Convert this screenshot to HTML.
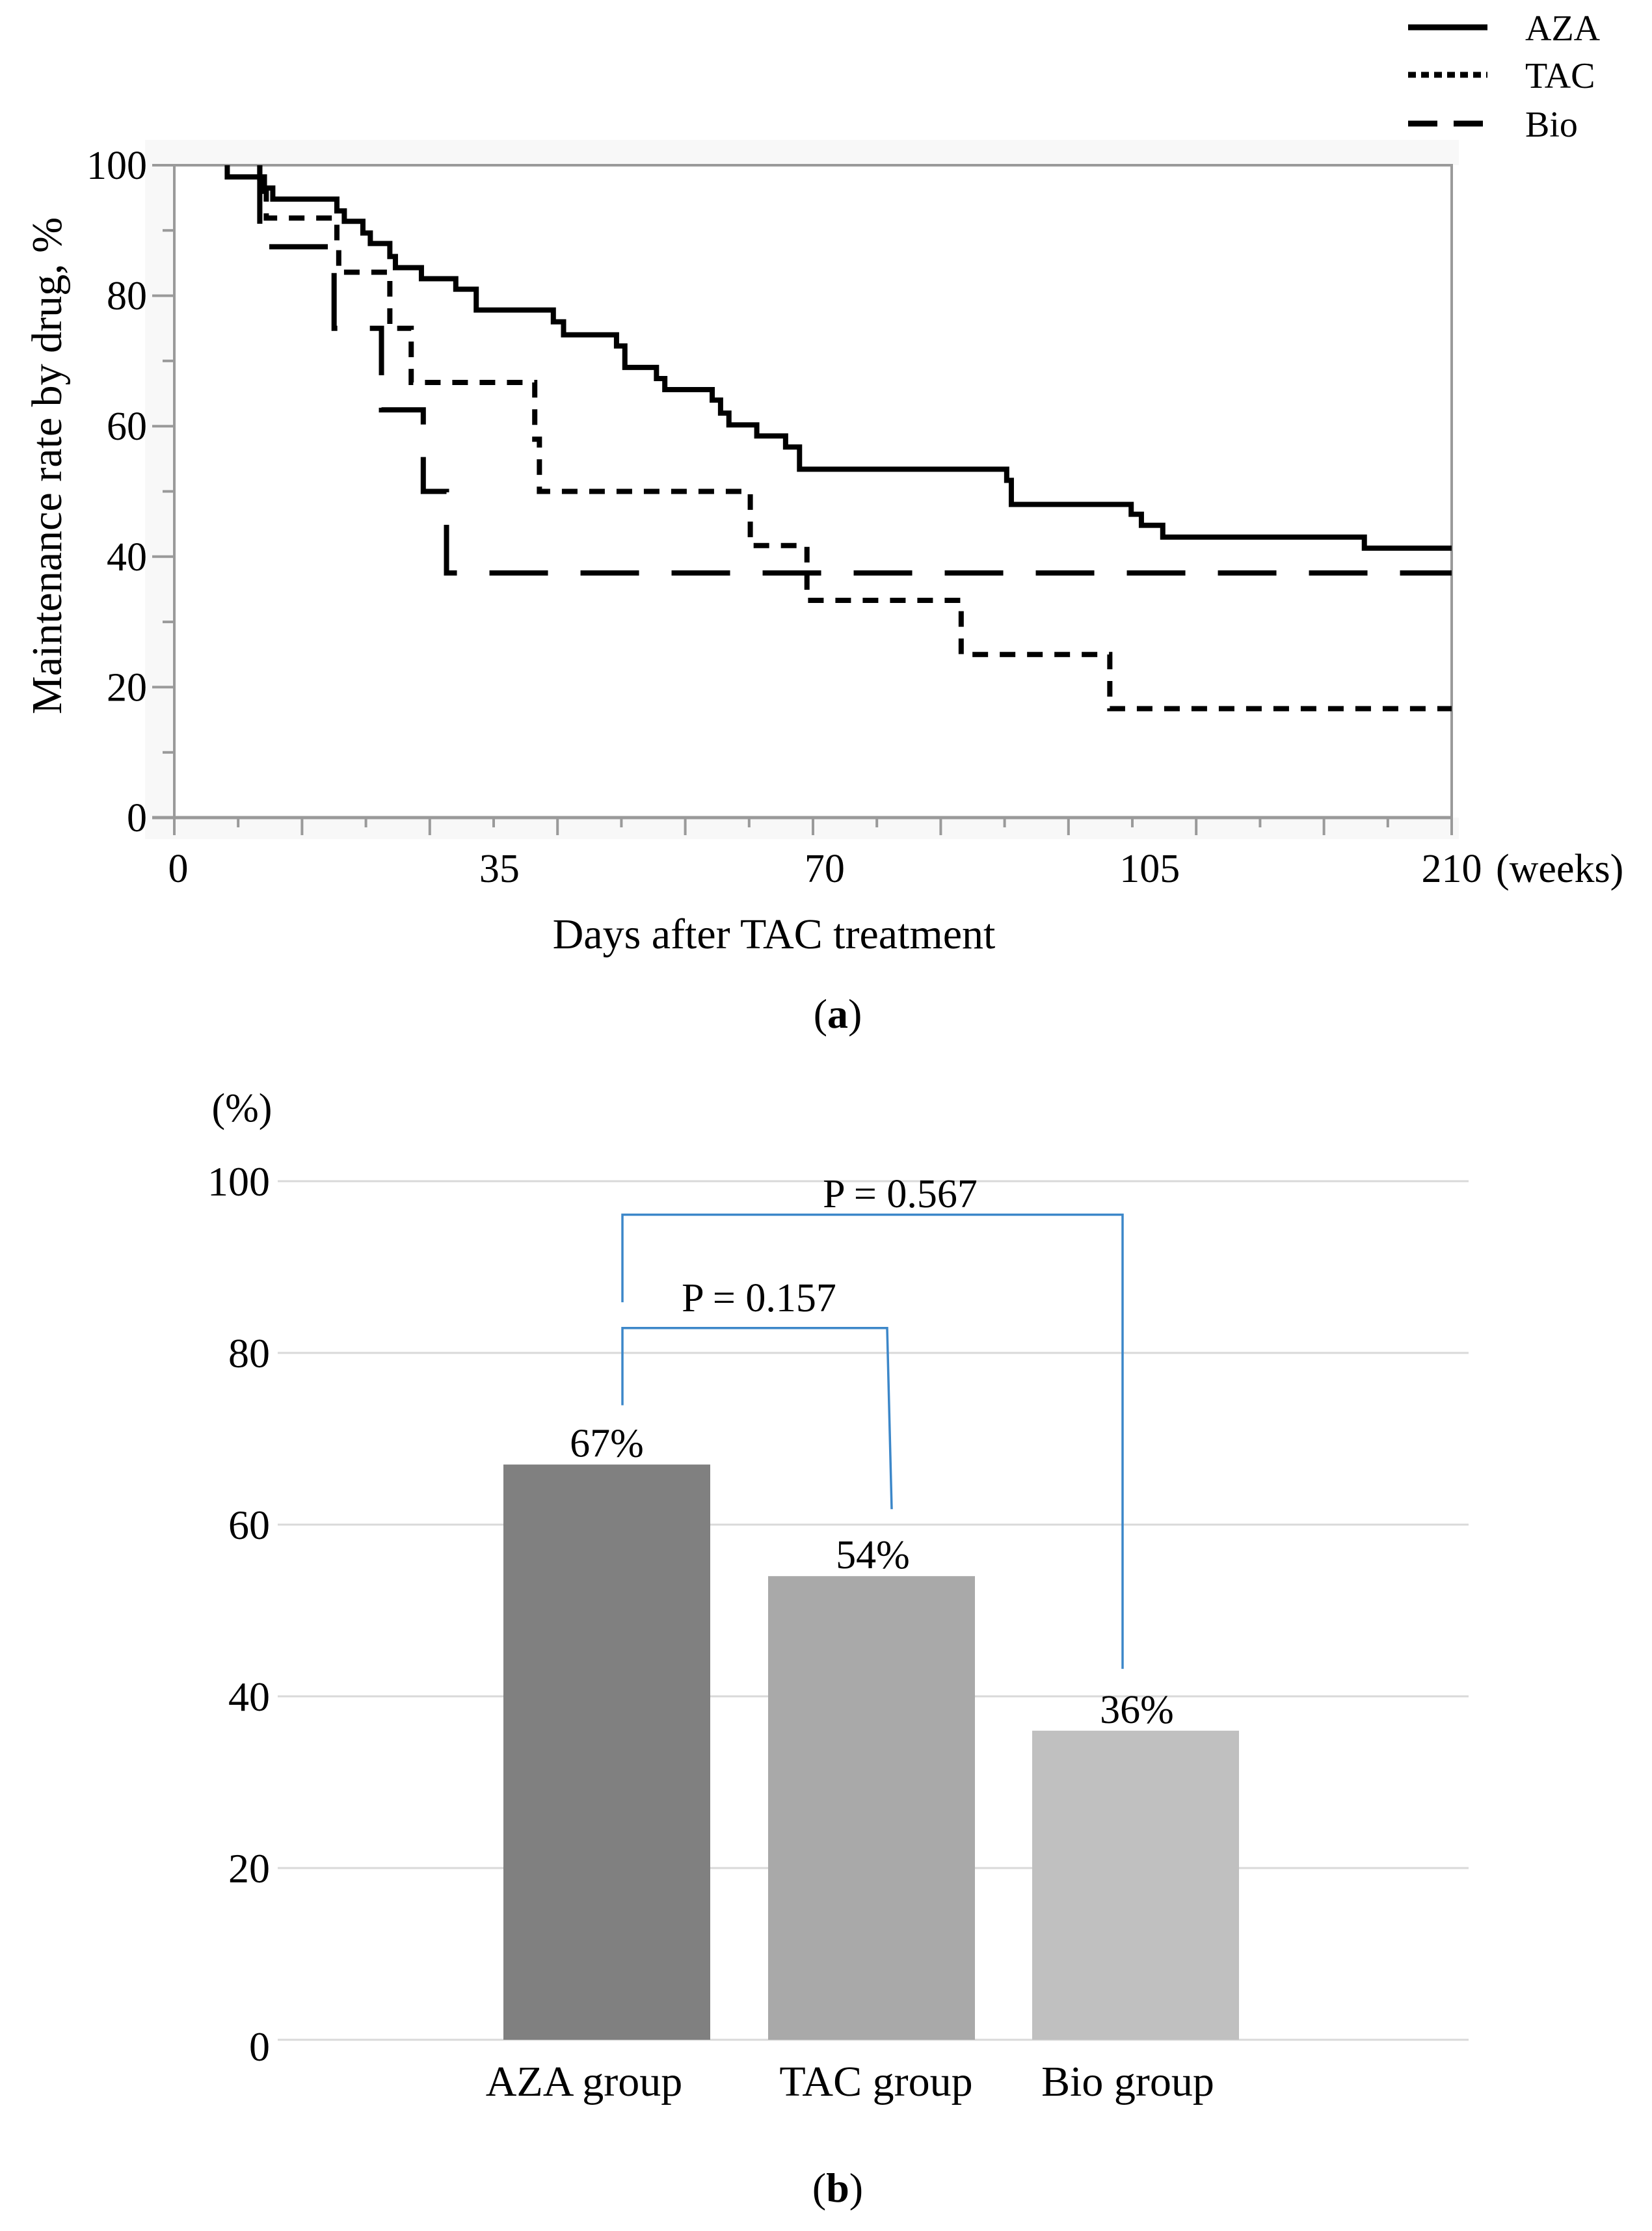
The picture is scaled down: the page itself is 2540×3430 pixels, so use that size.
<!DOCTYPE html>
<html><head><meta charset="utf-8"><style>
html,body{margin:0;padding:0;background:#fff;}
svg{display:block;font-family:"Liberation Serif",serif;}
</style></head><body>
<svg id="fig" width="2540" height="3430" viewBox="0 0 2540 3430" xmlns="http://www.w3.org/2000/svg">
<g id="kmg"></g>
<g id="barg"></g>
</svg>
<script>
// ---- KM chart data ----
const kmYTicks=[0,20,40,60,80,100];
const kmXTickValues=[0,35,70,105,137.5];
const kmXTickLabels=['0','35','70','105','210'];
const azaTimes=[5.7,9.7,10.6,17.5,18.3,20.3,21.1,23.2,23.8,26.6,30.3,32.5,40.8,41.9,47.6,48.5,51.9,52.8,57.9,58.8,59.7,62.7,65.8,67.3,89.6,90.1,103,104.1,106.4,128.1];
const azaVals=[98.2,96.5,94.8,93,91.4,89.6,88,86,84.3,82.6,81,77.8,76,74,72.3,69,67.3,65.6,64,62,60.2,58.5,56.8,53.4,51.7,48,46.5,44.8,43,41.3];
const tacTimes=[9.2,9.9,17.5,17.7,23.2,25.5,38.8,39.3,62.0,68.1,84.7,100.7];
const tacVals=[96,91.9,88,83.6,75,66.7,58,50,41.7,33.3,25,16.7];
const bioTimes=[9.2,17.2,22.3,26.8,29.3];
const bioVals=[87.5,75,62.5,50,37.5];
// ---- Bar chart data ----
const barCats=['AZA group','TAC group','Bio group'];
const barVals=[67,54,36];
const barLabels=['67%','54%','36%'];
const barYTicks=[0,20,40,60,80,100];
const pText=['P = 0.157','P = 0.567'];

const NS='http://www.w3.org/2000/svg';
function mk(tag,attrs,parent,txt){const e=document.createElementNS(NS,tag);for(const k in attrs)e.setAttribute(k,attrs[k]);if(txt!==undefined)e.textContent=txt;parent.appendChild(e);return e;}

const L=268,R=2232,T=254,B=1257,XMAX=137.5;
const kx=d=>L+(R-L)*d/XMAX;
const ky=v=>B-(B-T)*v/100;
const topG=document.getElementById('kmg');
let e;
e=mk('rect',{x:223,y:215,width:2020,height:39,fill:'#f8f8f8'},topG);


e=mk('rect',{x:223,y:254,width:45,height:1036,fill:'#f8f8f8'},topG);


e=mk('rect',{x:223,y:1257,width:2020,height:33,fill:'#f8f8f8'},topG);


e=mk('rect',{x:L,y:T,width:R-L,height:B-T,fill:'#fff',stroke:'#9a9a9a','stroke-width':4},topG);


for(let v=0;v<=100;v+=10){
  const major=v%20===0;
  e=mk('line',{x1:major?234:250,x2:L,y1:ky(v),y2:ky(v),stroke:'#9a9a9a','stroke-width':4},topG);
  
  
}
kmYTicks.forEach(v=>{
  e=mk('text',{x:226,y:ky(v)+21,'text-anchor':'end','font-size':62},topG,String(v));
  
  
});
e=mk('line',{x1:234,x2:R,y1:B,y2:B,stroke:'#9a9a9a','stroke-width':5},topG);


for(let i=0;i<=20;i++){
  const x=L+(R-L)*i/20, major=i%2===0;
  e=mk('line',{x1:x,x2:x,y1:B,y2:major?1284:1272,stroke:'#9a9a9a','stroke-width':4},topG);
  
  
}
kmXTickValues.forEach((v,i)=>{
  e=mk('text',{x:kx(v)+(i===0?6:0),y:1356,'text-anchor':'middle','font-size':62},topG,kmXTickLabels[i]);
  
  
});
e=mk('text',{x:2300,y:1356,'font-size':62},topG,'(weeks)');


e=mk('text',{x:1190,y:1458,'text-anchor':'middle','font-size':66},topG,'Days after TAC treatment');


e=mk('text',{x:0,y:0,'text-anchor':'middle','font-size':66,transform:'translate(94,716) rotate(-90)'},topG,'Maintenance rate by drug, %');


e=mk('text',{x:1288,y:1580,'text-anchor':'middle','font-size':64},topG);
e.innerHTML='(<tspan font-weight="bold">a</tspan>)';


function stepPath(times,vals){
  let d='M'+kx(times[0])+','+ky(100);
  times.forEach((t,i)=>{d+=' H'+kx(t)+' V'+ky(vals[i]);});
  d+=' H'+kx(XMAX);return d;
}
e=mk('path',{d:stepPath(bioTimes,bioVals),fill:'none',stroke:'#000','stroke-width':8,'stroke-dasharray':'90 50'},topG);


e=mk('path',{d:stepPath(tacTimes,tacVals),fill:'none',stroke:'#000','stroke-width':8,'stroke-dasharray':'24 18'},topG);


e=mk('path',{d:stepPath(azaTimes,azaVals),fill:'none',stroke:'#000','stroke-width':8},topG);


const leg=[['AZA',42,'none'],['TAC',115,'12 8'],['Bio',190,'45 25']];
leg.forEach(l=>{
  const g=mk('g',{},topG);
  
  
  const ln=mk('line',{x1:2165,x2:2287,y1:l[1],y2:l[1],stroke:'#000','stroke-width':9,'stroke-dasharray':l[2]},g);
  
  
  const t=mk('text',{x:2345,y:l[1]+20,'font-size':56},g,l[0]);
  
  
});

// ---- Bar chart ----
const botG=document.getElementById('barg');
const BY0=3136,BY100=1816,GX1=427,GX2=2258;
const by=v=>BY0-(BY0-BY100)*v/100;
const cx=[933,1340,1746],BW=318;
const bx=i=>cx[i];
const catOff=[-35,7,-12];
const barColors=['#808080','#a9a9a9','#c0c0c0'];
barYTicks.forEach(v=>{
  e=mk('line',{x1:GX1,x2:GX2,y1:by(v),y2:by(v),stroke:'#d9d9d9','stroke-width':3},botG);
  
  
  e=mk('text',{x:415,y:by(v)+22+(v===0?10:0),'text-anchor':'end','font-size':64},botG,String(v));
  
  
});
e=mk('text',{x:372,y:1724,'text-anchor':'middle','font-size':62},botG,'(%)');


barVals.forEach((v,i)=>{
  e=mk('rect',{x:bx(i)-BW/2,y:by(v),width:BW,height:BY0-by(v),fill:barColors[i]},botG);
  
  
  e=mk('text',{x:bx(i)+(i===0?0:2),y:by(v)-12,'text-anchor':'middle','font-size':62},botG,barLabels[i]);
  
  
  e=mk('text',{x:bx(i)+catOff[i],y:3222,'text-anchor':'middle','font-size':66},botG,barCats[i]);
  
  
});
const blue='#3c87c9';
e=mk('path',{d:`M957,${by(73.9)} V${by(82.9)} H1364 L1371,${by(61.8)}`,fill:'none',stroke:blue,'stroke-width':3.5},botG);


e=mk('path',{d:`M957,${by(85.9)} V${by(96.1)} H1726 V${by(43.2)}`,fill:'none',stroke:blue,'stroke-width':3.5},botG);


e=mk('text',{x:1167,y:2016,'text-anchor':'middle','font-size':62},botG,pText[0]);


e=mk('text',{x:1384,y:1856,'text-anchor':'middle','font-size':62},botG,pText[1]);


e=mk('text',{x:1288,y:3385,'text-anchor':'middle','font-size':64},botG);
e.innerHTML='(<tspan font-weight="bold">b</tspan>)';


</script>
</body></html>
